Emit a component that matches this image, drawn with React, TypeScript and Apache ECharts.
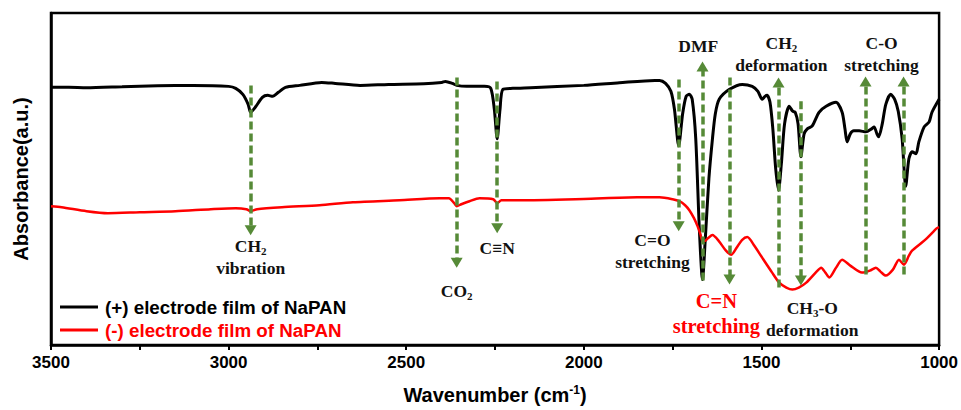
import React, { useEffect, useRef } from "react";
import * as echarts from "echarts";

// FTIR spectra of the NaPAN electrode films (arbitrary absorbance units, 0-100 scale)
const blackWavenumber = [
  3500, 3450, 3400, 3300, 3200, 3100, 3000, 2980, 2960, 2945, 2938, 2925, 2905, 2890, 2876, 2860,
  2840, 2800, 2738, 2700, 2630, 2550, 2450, 2400, 2390, 2370, 2358, 2330, 2280, 2262, 2252, 2244,
  2236, 2228, 2200, 2150, 2000, 1900, 1800, 1787, 1770, 1755, 1745, 1733, 1722, 1712, 1703, 1695,
  1685, 1675, 1666, 1658, 1648, 1638, 1630, 1619, 1590, 1554, 1526, 1510, 1498, 1490, 1484, 1476,
  1468, 1460, 1452, 1444, 1435, 1422, 1412, 1405, 1397, 1389, 1380, 1371, 1357, 1338, 1318, 1290,
  1273, 1265, 1259, 1250, 1240, 1225, 1206, 1190, 1183, 1175, 1170, 1160, 1150, 1136, 1125, 1115,
  1104, 1094, 1085, 1076, 1065, 1057, 1042, 1028, 1020, 1000,
];
const blackAbsorbance = [
  77.6, 77.6, 77.5, 77.8, 78.1, 78.2, 77.9, 77.3, 75.5, 72.5, 70.1, 71.6, 74.6, 75.2, 74.9, 76.1,
  77.6, 78.2, 79.1, 78.8, 78.2, 78.5, 78.7, 79.1, 79.4, 78.8, 78.2, 77.9, 77.9, 77.3, 71.0, 62.1,
  71.0, 77.0, 77.3, 77.5, 78.2, 79.0, 79.7, 79.7, 78.8, 76.4, 71.0, 60.0, 69.6, 74.9, 75.5, 74.0,
  62.1, 35.2, 19.7, 32.2, 50.1, 62.1, 69.6, 74.0, 77.0, 78.5, 77.9, 76.4, 74.0, 74.9, 75.2, 73.1,
  65.1, 53.1, 46.6, 54.6, 66.6, 71.9, 70.4, 70.1, 66.6, 56.7, 63.6, 65.1, 66.0, 70.1, 71.9, 73.1,
  70.1, 65.1, 61.2, 63.6, 64.5, 64.5, 64.2, 65.1, 65.7, 63.6, 62.7, 66.6, 72.5, 75.5, 74.0, 70.4,
  62.1, 47.8, 56.1, 58.2, 57.6, 61.2, 65.7, 67.2, 70.1, 74.0,
];

const redWavenumber = [
  3500, 3470, 3400, 3340, 3250, 3150, 3050, 2980, 2950, 2938, 2920, 2850, 2744, 2650, 2519, 2406,
  2380, 2365, 2358, 2345, 2322, 2294, 2255, 2244, 2232, 2181, 2000, 1850, 1787, 1750, 1731, 1715,
  1703, 1690, 1680, 1672, 1666, 1660, 1650, 1638, 1620, 1600, 1585, 1570, 1555, 1540, 1520, 1498,
  1470, 1450, 1430, 1413, 1395, 1374, 1345, 1332, 1320, 1309, 1290, 1273, 1250, 1217, 1195, 1178,
  1165, 1150, 1130, 1113, 1099, 1085, 1076, 1050, 1034, 1006, 1000,
];
const redAbsorbance = [
  41.8, 41.5, 40.3, 39.7, 40.0, 40.3, 40.9, 41.2, 40.9, 40.3, 40.9, 41.5, 42.1, 43.0, 43.6, 44.2,
  44.2, 42.7, 41.8, 42.4, 43.3, 44.2, 43.9, 42.7, 43.6, 43.6, 44.0, 44.5, 44.5, 43.9, 43.3, 42.1,
  40.6, 38.2, 35.8, 33.4, 31.3, 31.3, 32.2, 33.1, 31.3, 28.4, 27.2, 29.3, 31.6, 32.5, 29.9, 26.3,
  21.8, 18.8, 17.3, 16.7, 17.3, 18.8, 22.1, 23.3, 21.8, 20.3, 23.3, 25.7, 23.9, 21.8, 22.4, 23.3,
  22.1, 20.9, 22.7, 25.7, 24.2, 26.9, 28.4, 30.7, 32.2, 35.2, 35.5,
];

const seriesNames = ["(+) electrode film of NaPAN", "(-) electrode film of NaPAN"];

const xTicks = { min: 1000, max: 3500, step: 500 };

// Peak assignment arrows: wavenumber, tail value, head value
const arrowWavenumber = [2938, 2358, 2244, 1733, 1666, 1590, 1452, 1389, 1207, 1100];
const arrowTail = [78.2, 80.6, 79.4, 80.0, 19.4, 80.6, 17.3, 73.4, 21.2, 21.2];
const arrowHead = [34.6, 24.8, 35.2, 35.8, 83.9, 19.7, 79.1, 19.4, 79.4, 79.4];

// Peak assignment labels (rich text), anchored at wavenumber / value
const labelText = [
  "{n|CH}{s|2}\n{n|vibration}",
  "{n|CO}{s|2}",
  "{n|C≡N}",
  "{n|C=O}\n{n|stretching}",
  "{n|DMF}",
  "{red|C=N}\n{red|stretching}",
  "{n|CH}{s|2}\n{n|deformation}",
  "{n|CH}{s|3}{n|-O}\n{n|deformation}",
  "{n|C-O}\n{n|stretching}",
];
const labelWavenumber = [2938, 2358, 2244, 1807, 1678, 1627, 1444, 1357, 1162];
const labelValue = [26.6, 16.4, 29.3, 28.2, 90.1, 9.4, 87.8, 7.9, 87.8];

const GREEN = "#568a37";
const SERIF = "'Liberation Serif', 'Times New Roman', serif";
const SANS = "'Liberation Sans', Arial, sans-serif";

export default function App() {
  const ref = useRef<HTMLDivElement>(null);

  useEffect(() => {
    if (!ref.current) return;
    const chart = echarts.init(ref.current, undefined, { renderer: "svg" });

    const blackData = blackWavenumber.map((w, i) => [w, blackAbsorbance[i]]);
    const redData = redWavenumber.map((w, i) => [w, redAbsorbance[i]]);

    const arrowLines = arrowWavenumber.map((w, i) => [
      { coord: [w, arrowTail[i]], symbol: "none" },
      { coord: [w, arrowHead[i]], symbol: "triangle", symbolSize: [12, 10] },
    ]);

    const richStyles = {
      n: {
        fontFamily: SERIF,
        fontWeight: "bold",
        fontSize: 17.5,
        lineHeight: 22,
        fill: "#111",
      },
      s: {
        fontFamily: SERIF,
        fontWeight: "bold",
        fontSize: 11,
        lineHeight: 13,
        verticalAlign: "bottom",
        fill: "#111",
      },
      red: {
        fontFamily: SERIF,
        fontWeight: "bold",
        fontSize: 20.5,
        lineHeight: 25,
        fill: "#ff0000",
      },
    };

    chart.setOption({
      animation: false,
      grid: {
        left: 51,
        right: 21,
        top: 13,
        bottom: 62,
        show: true,
        borderColor: "#000",
        borderWidth: 2.5,
        backgroundColor: "transparent",
      },
      legend: {
        orient: "vertical",
        left: 55,
        top: 292,
        itemWidth: 38,
        itemHeight: 3,
        itemGap: 3,
        icon: "rect",
        textStyle: {
          fontFamily: SANS,
          fontWeight: "bold",
          fontSize: 18.8,
          lineHeight: 20,
          padding: [0, 0, 0, 2],
        },
        data: [
          { name: seriesNames[0], textStyle: { color: "#000" } },
          { name: seriesNames[1], textStyle: { color: "#ff0000" } },
        ],
      },
      xAxis: {
        type: "value",
        min: xTicks.min,
        max: xTicks.max,
        interval: xTicks.step,
        inverse: true,
        name: "{t|Wavenumber (cm}{sup|-1}{t|)}",
        nameLocation: "middle",
        nameGap: 39,
        nameTextStyle: {
          rich: {
            t: { fontFamily: SANS, fontWeight: "bold", fontSize: 20, color: "#000", lineHeight: 22 },
            sup: {
              fontFamily: SANS,
              fontWeight: "bold",
              fontSize: 12,
              color: "#000",
              lineHeight: 22,
              verticalAlign: "top",
              padding: [0, 0, 6, 0],
            },
          },
        },
        axisLine: { show: true, lineStyle: { color: "#000", width: 2.5 } },
        axisTick: { show: true, inside: false, length: 5, lineStyle: { color: "#000", width: 2 } },
        minorTick: { show: true, splitNumber: 2, length: 5, lineStyle: { color: "#000", width: 2 } },
        splitLine: { show: false },
        minorSplitLine: { show: false },
        axisLabel: {
          margin: 9,
          fontFamily: SANS,
          fontWeight: "bold",
          fontSize: 17,
          color: "#000",
          formatter: (v: number) => String(v),
        },
      },
      yAxis: {
        type: "value",
        min: 0,
        max: 100,
        name: "Absorbance(a.u.)",
        nameLocation: "middle",
        nameRotate: 90,
        nameGap: 20,
        nameTextStyle: { fontFamily: SANS, fontWeight: "bold", fontSize: 20, color: "#000" },
        axisLine: { show: true, lineStyle: { color: "#000", width: 2.5 } },
        axisTick: { show: false },
        axisLabel: { show: false },
        splitLine: { show: false },
      },
      series: [
        {
          name: seriesNames[0],
          type: "line",
          data: blackData,
          showSymbol: false,
          smooth: 0.25,
          color: "#000",
          lineStyle: { color: "#000", width: 3 },
          z: 2,
        },
        {
          name: seriesNames[1],
          type: "line",
          data: redData,
          showSymbol: false,
          smooth: 0.25,
          color: "#ff0000",
          lineStyle: { color: "#ff0000", width: 2.5 },
          z: 3,
        },
        {
          name: "assignments",
          type: "line",
          data: [],
          z: 4,
          markLine: {
            silent: true,
            symbol: ["none", "triangle"],
            symbolSize: [12, 10],
            label: { show: false },
            lineStyle: { color: GREEN, width: 3.5, type: [8, 4], opacity: 1 },
            emphasis: { disabled: true },
            data: arrowLines,
          },
        },
      ],
    });

    const labels = labelText.map((t, i) => {
      const [px, py] = chart.convertToPixel({ gridIndex: 0 }, [labelWavenumber[i], labelValue[i]]) as number[];
      return {
        type: "text",
        x: px,
        y: py,
        z: 10,
        style: {
          text: t,
          align: "center",
          verticalAlign: "middle",
          fontFamily: SERIF,
          fontWeight: "bold",
          fontSize: 17.5,
          rich: richStyles,
        },
      };
    });
    chart.setOption({ graphic: labels });

    return () => chart.dispose();
  }, []);

  return (
    <div
      ref={ref}
      style={{ position: "fixed", left: 0, top: 0, width: 961, height: 410, background: "#fff" }}
    />
  );
}
